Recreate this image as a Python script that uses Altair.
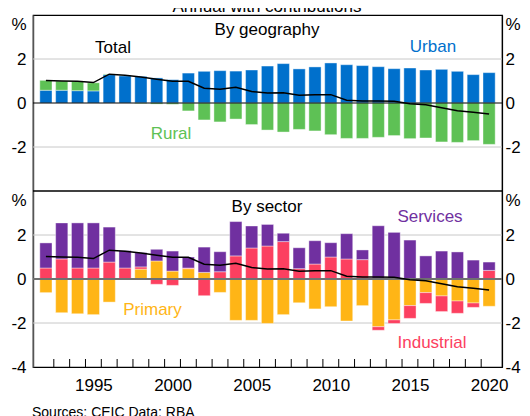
import altair as alt
import pandas as pd

# ---------------- data ----------------
years = list(range(1992, 2021))

# By geography (ppt contributions)
urban = [0.58, 0.58, 0.56, 0.55, 1.29, 1.24, 1.21, 1.14, 1.06, 1.36,
         1.44, 1.47, 1.45, 1.50, 1.68, 1.79, 1.55, 1.64, 1.82, 1.74,
         1.70, 1.65, 1.56, 1.59, 1.50, 1.53, 1.44, 1.29, 1.38]
rural = [0.45, 0.42, 0.42, 0.37, 0.03, 0.02, -0.03, -0.05, -0.06, -0.36,
         -0.77, -0.86, -0.73, -0.98, -1.23, -1.32, -1.20, -1.27, -1.44, -1.61,
         -1.61, -1.56, -1.48, -1.62, -1.59, -1.77, -1.79, -1.71, -1.88]
total = [1.02, 1.00, 0.99, 0.93, 1.31, 1.26, 1.18, 1.08, 0.99, 0.99,
         0.67, 0.62, 0.72, 0.52, 0.45, 0.47, 0.35, 0.37, 0.38, 0.13,
         0.09, 0.09, 0.08, -0.03, -0.08, -0.22, -0.35, -0.42, -0.50]

# By sector (ppt contributions)
primary = [-0.62, -1.53, -1.58, -1.62, -1.05, -0.03, 0.45, 0.82, 0.36, 0.47,
           0.30, -0.61, -1.88, -1.88, -2.02, -1.62, -1.08, -1.36, -1.26, -1.91,
           -1.21, -2.17, -1.86, -1.21, -0.62, -0.77, -1.00, -1.09, -1.24]
industrial = [0.50, 0.91, 0.50, 0.50, 0.77, 0.50, 0.10, -0.24, -0.29, 0.03,
              -0.76, 0.33, 1.05, 1.41, 1.50, 1.70, 0.47, 0.68, 1.00, 0.91,
              0.88, -0.16, -0.16, -0.58, -0.49, -0.71, -0.56, -0.20, 0.39]
services = [1.14, 1.64, 2.05, 2.05, 1.59, 0.79, 0.65, 0.53, 0.91, 0.50,
            1.15, 0.91, 1.56, 1.00, 0.98, 0.38, 0.95, 1.06, 0.65, 1.15,
            0.44, 2.42, 2.12, 1.77, 1.05, 1.27, 1.23, 0.86, 0.38]

panel_ticks = [-2, 0, 2]
x_label_years = [1995, 2000, 2005, 2010, 2015, 2020]
series_names = ["Urban", "Rural", "Primary", "Industrial", "Services"]
series_colors = ["#0070CC", "#5EC155", "#FFB516", "#FC4060", "#7030A0"]

# ---------------- tables ----------------
rows = []
for i, yr in enumerate(years):
    rows.append(dict(year=yr, panel="geography", series="Urban", order=0, value=urban[i]))
    rows.append(dict(year=yr, panel="geography", series="Rural", order=1, value=rural[i]))
    rows.append(dict(year=yr, panel="sector", series="Primary", order=0, value=primary[i]))
    rows.append(dict(year=yr, panel="sector", series="Industrial", order=1, value=industrial[i]))
    rows.append(dict(year=yr, panel="sector", series="Services", order=2, value=services[i]))
bars_df = pd.DataFrame(rows)

line_df = pd.DataFrame([dict(year=yr, panel=p, value=total[i])
                        for p in ["geography", "sector"]
                        for i, yr in enumerate(years)])

# the lower panel sits 8 units below the upper one on a shared scale
SHIFT = "(datum.panel === 'sector' ? -8 : 0)"
grid_df = pd.DataFrame({"g": [t + s for s in (0, -8) for t in panel_ticks if t != 0]})
zero_top_df = pd.DataFrame({"g": [0]})
zero_bot_df = pd.DataFrame({"g": [-8]})
sep_df = pd.DataFrame({"g": [-4]})
tick_df = pd.DataFrame({"year": [yr + 0.5 for yr in years[:-1]]})

yscale = alt.Scale(domain=[-12, 4], nice=False, zero=False)
xscale = alt.Scale(domain=[1991.5, 2020.5], nice=False, zero=False)

axis_values = [3.57, 2, 0, -2, -4.43, -6, -8, -10, -12]
label_expr = ("(datum.value > 3 || (datum.value < -4.2 && datum.value > -5)) ? '%' : "
              "'' + (datum.value > -4 ? datum.value : datum.value + 8)")

left_axis = alt.Axis(values=axis_values, labelExpr=label_expr, orient="left",
                     ticks=False, tickSize=0, grid=False, title=None,
                     labelFontSize=17, labelPadding=7, labelColor="black",
                     labelFlush=False, labelOverlap=False,
                     domainColor="#555555", domainWidth=1.5)
right_axis = alt.Axis(values=axis_values, labelExpr=label_expr, orient="right",
                      ticks=False, tickSize=0, grid=False, title=None,
                      labelFontSize=17, labelPadding=3, labelColor="black",
                      labelFlush=False, labelOverlap=False,
                      domainColor="black", domainWidth=1.2)

x_axis = alt.Axis(values=x_label_years, format="d", orient="bottom",
                  ticks=False, tickSize=0, domain=False, grid=False,
                  title=None, labelFontSize=17, labelPadding=10,
                  labelColor="black", labelFlush=False, labelOverlap=False)
x_enc = alt.X("year:Q", scale=xscale, axis=x_axis)

# ---------------- layers ----------------
grid = alt.Chart(grid_df).mark_rule(color="#C8C8C8", strokeWidth=1).encode(
    y=alt.Y("g:Q", scale=yscale, axis=None))

bars = alt.Chart(bars_df).transform_stack(
    stack="value", groupby=["panel", "year"], as_=["v0", "v1"],
    sort=[alt.SortField("order", "ascending")]
).transform_calculate(
    y0=f"datum.v0 + {SHIFT}", y1=f"datum.v1 + {SHIFT}"
).mark_bar(size=12.2, stroke="white", strokeWidth=0.8, strokeOpacity=0.5).encode(
    x=x_enc,
    y=alt.Y("y0:Q", scale=yscale, axis=left_axis),
    y2="y1:Q",
    color=alt.Color("series:N", scale=alt.Scale(domain=series_names, range=series_colors),
                    legend=None),
)

zero_top = alt.Chart(zero_top_df).mark_rule(color="black", strokeWidth=1).encode(
    y=alt.Y("g:Q", scale=yscale, axis=None))
zero_bot = alt.Chart(zero_bot_df).mark_rule(color="#707070", strokeWidth=2).encode(
    y=alt.Y("g:Q", scale=yscale, axis=None))
separator = alt.Chart(sep_df).mark_rule(color="black", strokeWidth=1.5).encode(
    y=alt.Y("g:Q", scale=yscale, axis=None))

xticks = alt.Chart(tick_df).mark_rule(color="black", strokeWidth=1).encode(
    x=x_enc,
    y=alt.value(352), y2=alt.value(344))

line = alt.Chart(line_df).transform_calculate(
    yv=f"datum.value + {SHIFT}"
).mark_line(color="black", strokeWidth=1.5).encode(
    x=x_enc,
    y=alt.Y("yv:Q", scale=yscale, axis=right_axis),
    detail="panel:N",
)


def label(txt, x, y, color="black", size=17, align="center"):
    return alt.Chart(pd.DataFrame({"t": [txt]})).mark_text(
        align=align, baseline="alphabetic", fontSize=size, color=color
    ).encode(text="t:N", x=alt.value(x), y=alt.value(y))


texts = [
    label("Annual with contributions", 234, -3),
    label("By geography", 234, 20),
    label("Total", 80, 37.7),
    label("Urban", 400, 36.7, series_colors[0]),
    label("Rural", 138, 124.3, series_colors[1]),
    label("By sector", 234, 196.7),
    label("Services", 397, 207.3, series_colors[4]),
    label("Primary", 119.5, 300, series_colors[2]),
    label("Industrial", 399, 333.3, series_colors[3]),
    label("Sources: CEIC Data; RBA", -1, 402, size=14, align="left"),
]

chart = alt.layer(
    grid, bars, zero_top, zero_bot, separator, xticks, line, *texts
).resolve_scale(y="shared").resolve_axis(y="independent").properties(
    width=469, height=352,
    autosize=alt.AutoSizeParams(type="none"),
    padding={"left": 25, "top": 7, "right": 20, "bottom": 52},
).configure(font="Liberation Sans").configure_view(stroke="black", strokeWidth=1.2)

chart.save("out.html", embed_options={"renderer": "svg", "actions": False})
